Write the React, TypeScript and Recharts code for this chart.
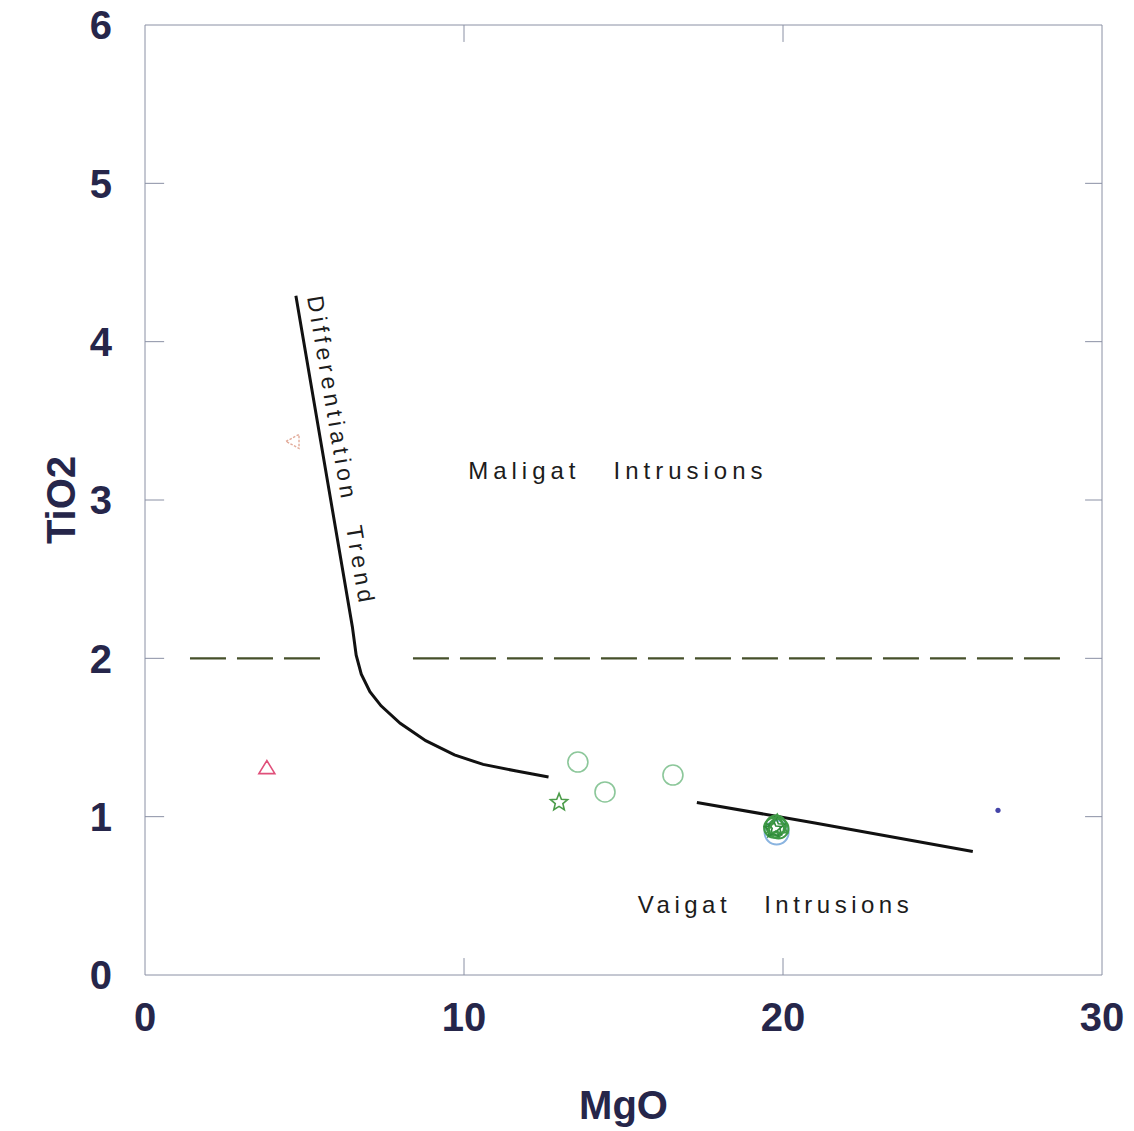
import React from "react";
import { Label, ReferenceLine, Scatter, ScatterChart, XAxis, YAxis } from "recharts";

const xTicks = [0, 10, 20, 30];
const yTicks = [0, 1, 2, 3, 4, 5, 6];
const xInnerTicks = [10, 20];
const yInnerTicks = [1, 2, 3, 4, 5];

// differentiation trend: steep branch bending into the low-Ti tail
const trendUpper = [
  { x: 4.73, y: 4.29 },
  { x: 6.5, y: 2.2 },
  { x: 6.62, y: 2.02 },
  { x: 6.78, y: 1.9 },
  { x: 7.05, y: 1.79 },
  { x: 7.4, y: 1.7 },
  { x: 8.0, y: 1.59 },
  { x: 8.8, y: 1.48 },
  { x: 9.7, y: 1.39 },
  { x: 10.6, y: 1.33 },
  { x: 11.6, y: 1.29 },
  { x: 12.65, y: 1.25 },
];
const trendLower = [
  { x: 17.3, y: 1.09 },
  { x: 21.0, y: 0.96 },
  { x: 25.95, y: 0.78 },
];

// TiO2 = 2 divider between the two intrusion suites
const dividerLevel = 2;
const dividerLeft = [1.41, 5.55];
const dividerRight = [8.4, 28.93];

const redTriangles = [{ x: 3.82, y: 1.31 }];
const paleTriangles = [{ x: 4.64, y: 3.37 }];
const openCircles = [
  { x: 13.57, y: 1.345 },
  { x: 14.42, y: 1.156 },
  { x: 16.55, y: 1.263 },
];
const stars = [{ x: 12.98, y: 1.09 }];
const clusterBlue = [{ x: 19.8, y: 0.9 }];
const clusterGreen = [
  { x: 19.72, y: 0.93 },
  { x: 19.86, y: 0.925 },
  { x: 19.78, y: 0.945 },
];
const clusterStars = [
  { x: 19.78, y: 0.935 },
  { x: 19.7, y: 0.92 },
];
const clusterTriangles = [{ x: 19.82, y: 0.95 }];
const blueDots = [{ x: 26.74, y: 1.04 }];

const maligatAnchor = [{ x: 10.13, y: 3.13 }];
const vaigatAnchor = [{ x: 15.45, y: 0.39 }];
const trendAnchor = [{ x: 5.08, y: 4.28 }];

const AXIS = "#8a90a4";
const INK = "#26264a";
const TEXT_FONT = "'Liberation Sans', Arial, sans-serif";

const tickStyle = {
  fill: INK,
  fontSize: 40,
  fontWeight: 700,
  fontFamily: TEXT_FONT,
};

function starPoints(cx: number, cy: number, outer: number, inner: number) {
  const pts: string[] = [];
  for (let i = 0; i < 10; i++) {
    const a = -Math.PI / 2 + (i * Math.PI) / 5;
    const rad = i % 2 === 0 ? outer : inner;
    pts.push(`${cx + rad * Math.cos(a)},${cy + rad * Math.sin(a)}`);
  }
  return pts.join(" ");
}

const noDot = () => <g />;

const redTriangle = (p: any) => (
  <polygon
    points={`${p.cx},${p.cy - 7} ${p.cx - 8},${p.cy + 6} ${p.cx + 8},${p.cy + 6}`}
    fill="none"
    stroke="#e0507a"
    strokeWidth={1.6}
  />
);

const paleTriangle = (p: any) => (
  <polygon
    points={`${p.cx - 7},${p.cy} ${p.cx + 6},${p.cy - 7} ${p.cx + 6},${p.cy + 7}`}
    fill="none"
    stroke="#e2ab9a"
    strokeWidth={1.4}
    strokeDasharray="2.5 1.5"
  />
);

const openCircle = (color: string, r: number, w: number) => (p: any) =>
  <circle cx={p.cx} cy={p.cy} r={r} fill="none" stroke={color} strokeWidth={w} />;

const openStar = (color: string) => (p: any) =>
  <polygon points={starPoints(p.cx, p.cy, 9, 4)} fill="none" stroke={color} strokeWidth={1.6} />;

const greenTriangle = (p: any) => (
  <polygon
    points={`${p.cx},${p.cy - 10} ${p.cx - 10},${p.cy + 8} ${p.cx + 10},${p.cy + 8}`}
    fill="none"
    stroke="#3f9a46"
    strokeWidth={2}
  />
);

const blueDot = (p: any) => <circle cx={p.cx} cy={p.cy} r={2.6} fill="#4444a8" />;

const annotation = {
  fill: "#1c1c1c",
  fontFamily: TEXT_FONT,
  fontSize: 24,
};

const maligatText = (p: any) => (
  <text x={p.cx} y={p.cy} {...annotation} style={{ letterSpacing: "5px" }}>
    Maligat
    <tspan dx={33}>Intrusions</tspan>
  </text>
);

const vaigatText = (p: any) => (
  <text x={p.cx} y={p.cy} {...annotation} style={{ letterSpacing: "4.5px" }}>
    Vaigat
    <tspan dx={33}>Intrusions</tspan>
  </text>
);

const trendText = (p: any) => (
  <text
    x={p.cx}
    y={p.cy}
    {...annotation}
    fontSize={23}
    style={{ letterSpacing: "4.5px" }}
    transform={`rotate(80.4, ${p.cx}, ${p.cy})`}
  >
    Differentiation
    <tspan dx={24}>Trend</tspan>
  </text>
);

export default function App() {
  return (
    <div style={{ position: "absolute", left: 0, top: 0 }}>
      <ScatterChart width={1134} height={1131} margin={{ top: 25, right: 32, left: 0, bottom: 0 }}>
        <XAxis
          type="number"
          dataKey="x"
          domain={[0, 30]}
          ticks={xTicks}
          interval={0}
          allowDataOverflow
          tickLine={false}
          tickSize={0}
          tickMargin={28}
          axisLine={{ stroke: AXIS }}
          tick={tickStyle}
          height={156}
        >
          <Label
            content={(props: any) => {
              const vb = props.viewBox;
              return (
                <text x={vb.x + vb.width / 2} y={vb.y + 144} textAnchor="middle" {...tickStyle}>
                  MgO
                </text>
              );
            }}
          />
        </XAxis>
        <YAxis
          type="number"
          dataKey="y"
          domain={[0, 6]}
          ticks={yTicks}
          interval={0}
          allowDataOverflow
          tickLine={false}
          tickSize={0}
          tickMargin={33}
          axisLine={{ stroke: AXIS }}
          tick={tickStyle}
          width={145}
        >
          <Label
            content={(props: any) => {
              const vb = props.viewBox;
              const x = vb.x + 75;
              const y = vb.y + vb.height / 2;
              return (
                <text x={x} y={y} textAnchor="middle" transform={`rotate(-90, ${x}, ${y})`} {...tickStyle}>
                  TiO2
                </text>
              );
            }}
          />
        </YAxis>

        {/* frame top and right */}
        <ReferenceLine y={6} stroke={AXIS} />
        <ReferenceLine x={30} stroke={AXIS} />

        {/* inward tick marks on all four sides */}
        {xInnerTicks.map((t) => (
          <ReferenceLine key={`b${t}`} segment={[{ x: t, y: 0 }, { x: t, y: 0.107 }]} stroke={AXIS} />
        ))}
        {xInnerTicks.map((t) => (
          <ReferenceLine key={`t${t}`} segment={[{ x: t, y: 6 }, { x: t, y: 5.893 }]} stroke={AXIS} />
        ))}
        {yInnerTicks.map((t) => (
          <ReferenceLine key={`l${t}`} segment={[{ x: 0, y: t }, { x: 0.6, y: t }]} stroke={AXIS} />
        ))}
        {yInnerTicks.map((t) => (
          <ReferenceLine key={`r${t}`} segment={[{ x: 29.47, y: t }, { x: 30, y: t }]} stroke={AXIS} />
        ))}

        <ReferenceLine
          segment={[{ x: dividerLeft[0], y: dividerLevel }, { x: dividerLeft[1], y: dividerLevel }]}
          stroke="#46502a"
          strokeWidth={2.4}
          strokeDasharray="36 11"
        />
        <ReferenceLine
          segment={[{ x: dividerRight[0], y: dividerLevel }, { x: dividerRight[1], y: dividerLevel }]}
          stroke="#46502a"
          strokeWidth={2.4}
          strokeDasharray="36 11"
        />

        <Scatter data={trendUpper} line={{ stroke: "#111", strokeWidth: 3 }} shape={noDot} isAnimationActive={false} />
        <Scatter data={trendLower} line={{ stroke: "#111", strokeWidth: 3 }} shape={noDot} isAnimationActive={false} />

        <Scatter data={paleTriangles} shape={paleTriangle} isAnimationActive={false} />
        <Scatter data={redTriangles} shape={redTriangle} isAnimationActive={false} />
        <Scatter data={openCircles} shape={openCircle("#8cc79a", 10, 1.6)} isAnimationActive={false} />
        <Scatter data={stars} shape={openStar("#4c9c4a")} isAnimationActive={false} />
        <Scatter data={clusterBlue} shape={openCircle("#8ab4e0", 12, 2)} isAnimationActive={false} />
        <Scatter data={clusterGreen} shape={openCircle("#3f9a46", 10, 2)} isAnimationActive={false} />
        <Scatter data={clusterStars} shape={openStar("#2f8a3a")} isAnimationActive={false} />
        <Scatter data={clusterTriangles} shape={greenTriangle} isAnimationActive={false} />
        <Scatter data={blueDots} shape={blueDot} isAnimationActive={false} />

        <Scatter data={maligatAnchor} shape={maligatText} isAnimationActive={false} />
        <Scatter data={vaigatAnchor} shape={vaigatText} isAnimationActive={false} />
        <Scatter data={trendAnchor} shape={trendText} isAnimationActive={false} />
      </ScatterChart>
    </div>
  );
}
